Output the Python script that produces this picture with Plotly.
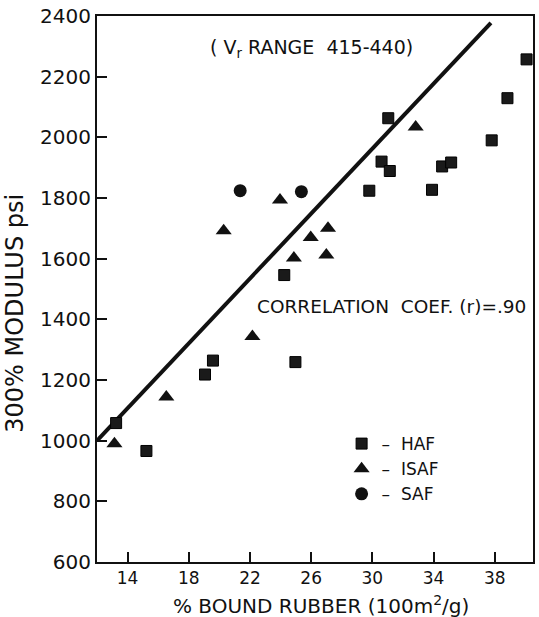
import plotly.graph_objects as go

# HAF (squares)
haf_x = [13.25, 15.23, 19.06, 19.58, 24.24, 24.97, 29.8, 30.6, 31.04, 31.14, 33.9, 34.56, 35.15, 37.8, 38.83, 40.08]
haf_y = [1058, 966, 1218, 1264, 1546, 1259, 1824, 1920, 2063, 1889, 1827, 1904, 1917, 1990, 2129, 2257]
# ISAF (triangles)
isaf_x = [13.14, 16.53, 20.28, 22.16, 23.96, 24.87, 25.97, 26.99, 27.1, 32.83]
isaf_y = [990, 1144, 1692, 1343, 1793, 1602, 1670, 1612, 1700, 2034]
# SAF (circles)
saf_x = [21.36, 25.36]
saf_y = [1824, 1821]
# regression line
line_x = [12.0, 37.75]
line_y = [1000, 2377]

x_ticks = [14, 18, 22, 26, 30, 34, 38]
y_ticks = [600, 800, 1000, 1200, 1400, 1600, 1800, 2000, 2200, 2400]

FONT = "DejaVu Sans"
INK = "#111111"

fig = go.Figure()
fig.add_trace(go.Scatter(x=line_x, y=line_y, mode="lines",
                         line=dict(color=INK, width=4), showlegend=False,
                         hoverinfo="skip"))
fig.add_trace(go.Scatter(x=haf_x, y=haf_y, mode="markers", name="–  HAF",
                         marker=dict(symbol="square", size=11, color="#1a1a1a",
                                     line=dict(color="#000", width=1)),
                         cliponaxis=False))
fig.add_trace(go.Scatter(x=isaf_x, y=isaf_y, mode="markers", name="–  ISAF",
                         marker=dict(symbol="triangle-up", size=14, color=INK),
                         cliponaxis=False))
fig.add_trace(go.Scatter(x=saf_x, y=saf_y, mode="markers", name="–  SAF",
                         marker=dict(symbol="circle", size=13, color=INK),
                         cliponaxis=False))

fig.update_layout(
    width=539, height=617,
    margin=dict(l=97, r=4, t=15, b=55),
    paper_bgcolor="white", plot_bgcolor="white",
    font=dict(family=FONT, color=INK),
    legend=dict(x=0.561, y=0.249, xanchor="left", yanchor="top",
                bgcolor="rgba(0,0,0,0)", font=dict(size=17, family=FONT, color=INK),
                itemwidth=30, tracegroupgap=0),
    xaxis=dict(range=[12, 40.5], tickvals=x_ticks, ticktext=[str(v) for v in x_ticks],
               ticks="inside", ticklen=10, tickwidth=1.5, tickcolor=INK,
               showline=True, linecolor=INK, linewidth=2, mirror=True,
               showgrid=False, zeroline=False, ticklabeloverflow="allow",
               tickfont=dict(size=17, family=FONT, color=INK)),
    yaxis=dict(range=[600, 2400], tickvals=y_ticks, ticktext=[str(v) for v in y_ticks],
               ticks="inside", ticklen=10, tickwidth=1.5, tickcolor=INK,
               showline=True, linecolor=INK, linewidth=2, mirror=True,
               showgrid=False, zeroline=False, ticklabeloverflow="allow",
               tickfont=dict(size=20, family=FONT, color=INK)),
    annotations=[
        dict(text="( V<sub>r</sub> RANGE  415-440)", x=0.492, y=1 - (48 - 15) / 547,
             xref="paper", yref="paper",
             showarrow=False, font=dict(size=19, family=FONT, color=INK),
             yanchor="middle", xanchor="center"),
        dict(text="CORRELATION  COEF. (r)=.90", x=0.9886, y=1 - (306 - 15) / 547,
             xref="paper", yref="paper",
             showarrow=False, font=dict(size=18.5, family=FONT, color=INK),
             xanchor="right", yanchor="middle"),
        dict(text="% BOUND RUBBER (100m<sup>2</sup>/g)", x=0.514, y=-0.0786,
             xref="paper", yref="paper",
             showarrow=False, font=dict(size=20, family=FONT, color=INK),
             xanchor="center", yanchor="middle"),
        dict(text="300% MODULUS psi", x=-0.19, y=0.455, xref="paper", yref="paper",
             showarrow=False, textangle=-90, font=dict(size=24, family=FONT, color=INK),
             xanchor="center", yanchor="middle"),
    ],
)

# remove the browser's default 8px body margin so the figure fills the window
fig.write_html("out.html", config={"displayModeBar": False},
               post_script="document.body.style.margin='0px';")
